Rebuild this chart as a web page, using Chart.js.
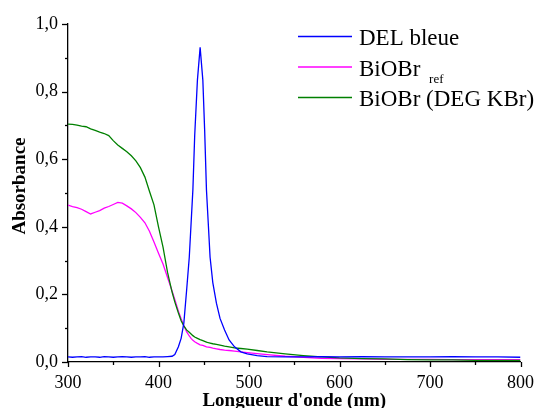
<!DOCTYPE html>
<html>
<head>
<meta charset="utf-8">
<script src="https://cdn.jsdelivr.net/npm/chart.js@4.4.1/dist/chart.umd.min.js"></script>
<style>
  body { margin: 0; background: #fff; }
  #wrap { width: 544px; height: 408px; }
</style>
</head>
<body>
<div id="wrap"><canvas id="absChart" width="544" height="408"></canvas></div>
<script>
// longueurs d'onde (nm), partagées par les trois courbes
const wavelengths = [300, 305, 310, 315, 320, 325, 330, 335, 340, 345, 350, 355, 360, 365, 370, 375, 380, 385, 390, 395, 400,
  405, 410, 415, 418, 422, 425, 428, 431, 434, 436, 438, 440, 443, 446, 449, 451, 453, 455, 457, 460, 464, 468, 473, 478, 484, 491, 498, 509, 520,
  540, 560, 580, 600, 625, 650, 675, 700, 725, 750, 775, 800];

const delBleue = [0.015, 0.014, 0.015, 0.016, 0.014, 0.015, 0.015, 0.014, 0.016, 0.015, 0.014, 0.015, 0.016, 0.015, 0.014, 0.015, 0.015, 0.016, 0.014, 0.015, 0.015,
  0.015, 0.016, 0.017, 0.022, 0.045, 0.07, 0.115, 0.21, 0.31, 0.41, 0.51, 0.67, 0.834, 0.931, 0.834, 0.686, 0.509, 0.41, 0.31, 0.235, 0.174, 0.129, 0.095, 0.065, 0.045, 0.03, 0.024, 0.019, 0.016,
  0.015, 0.015, 0.016, 0.015, 0.016, 0.015, 0.015, 0.015, 0.016, 0.015, 0.015, 0.014];

const biobrRef = [0.464, 0.46, 0.457, 0.452, 0.445, 0.438, 0.443, 0.448, 0.455, 0.46, 0.466, 0.472, 0.47, 0.462, 0.453, 0.442, 0.428, 0.412, 0.387, 0.355, 0.322,
  0.29, 0.25, 0.21, 0.185, 0.15, 0.128, 0.108, 0.09, 0.077, 0.07, 0.064, 0.06, 0.055, 0.051, 0.049, 0.047, 0.045, 0.044, 0.043, 0.041, 0.039, 0.037, 0.035, 0.034, 0.032, 0.03, 0.028, 0.025, 0.022,
  0.017, 0.014, 0.011, 0.01, 0.009, 0.008, 0.008, 0.008, 0.007, 0.007, 0.007, 0.007];

const biobrDeg = [0.704, 0.703, 0.701, 0.698, 0.696, 0.69, 0.685, 0.68, 0.676, 0.67, 0.655, 0.642, 0.632, 0.622, 0.61, 0.595, 0.575, 0.547, 0.505, 0.465, 0.4,
  0.34, 0.265, 0.207, 0.178, 0.145, 0.122, 0.107, 0.095, 0.088, 0.083, 0.078, 0.074, 0.07, 0.066, 0.063, 0.061, 0.059, 0.057, 0.056, 0.054, 0.052, 0.05, 0.047, 0.045, 0.042, 0.04, 0.038, 0.034, 0.03,
  0.024, 0.019, 0.015, 0.012, 0.01, 0.009, 0.007, 0.006, 0.006, 0.005, 0.005, 0.005];

const seriesNames = ['DEL bleue', 'BiOBr', 'BiOBr (DEG KBr)'];
const seriesSubs = ['', 'ref', ''];
const seriesColors = ['#0000ff', '#ff00ff', '#008000'];
const xTickLabels = ['300', '400', '500', '600', '700', '800'];
const yTickLabels = ['0,0', '0,2', '0,4', '0,6', '0,8', '1,0'];

const serif = '"Liberation Serif", "Times New Roman", serif';
Chart.defaults.font.family = serif;
Chart.defaults.color = '#000';

function toPoints(values) {
  return wavelengths.map((w, i) => ({ x: w, y: values[i] }));
}

// ticks majeurs/mineurs, légende avec indice, titres des axes
const decor = {
  id: 'decor',
  afterDraw(chart) {
    const ctx = chart.ctx;
    const xs = chart.scales.x, ys = chart.scales.y;
    const area = chart.chartArea;
    ctx.save();
    ctx.strokeStyle = '#000';
    ctx.lineWidth = 1.3;
    xs.ticks.forEach(t => {
      const px = Math.round(xs.getPixelForValue(t.value)) + 0.5;
      const len = t.value % 100 === 0 ? 5 : 3;
      ctx.beginPath(); ctx.moveTo(px, area.bottom); ctx.lineTo(px, area.bottom + len); ctx.stroke();
    });
    ys.ticks.forEach(t => {
      const py = Math.round(ys.getPixelForValue(t.value)) + 0.5;
      const len = Math.round(t.value * 10) % 2 === 0 ? 6 : 3;
      ctx.beginPath(); ctx.moveTo(area.left - len, py); ctx.lineTo(area.left, py); ctx.stroke();
    });

    // légende
    const baselines = [45, 75.5, 106];
    seriesNames.forEach((name, i) => {
      const by = baselines[i];
      ctx.strokeStyle = seriesColors[i];
      ctx.lineWidth = 1.3;
      ctx.beginPath(); ctx.moveTo(298, by - 8.5); ctx.lineTo(352, by - 8.5); ctx.stroke();
      ctx.fillStyle = '#000';
      ctx.textBaseline = 'alphabetic';
      ctx.textAlign = 'left';
      ctx.font = '23px ' + serif;
      ctx.fillText(name, 359, by);
      if (seriesSubs[i]) {
        const w = ctx.measureText(name + ' ').width;
        ctx.font = '13px ' + serif;
        ctx.fillText(seriesSubs[i], 359 + w + 3, by + 7.5);
      }
    });

    // titres
    ctx.fillStyle = '#000';
    ctx.font = 'bold 19px ' + serif;
    ctx.textAlign = 'center';
    ctx.textBaseline = 'alphabetic';
    ctx.fillText("Longueur d'onde (nm)", (area.left + area.right) / 2, 406);
    ctx.translate(25, 186);
    ctx.rotate(-Math.PI / 2);
    ctx.fillText('Absorbance', 0, 0);
    ctx.restore();
  }
};

const ctx = document.getElementById('absChart').getContext('2d');
const absChart = new Chart(ctx, {
  type: 'line',
  data: {
    datasets: [
      { label: 'DEL bleue', data: toPoints(delBleue), borderColor: seriesColors[0], order: 0 },
      { label: 'BiOBr ref', data: toPoints(biobrRef), borderColor: seriesColors[1], order: 2 },
      { label: 'BiOBr (DEG KBr)', data: toPoints(biobrDeg), borderColor: seriesColors[2], order: 1 }
    ]
  },
  options: {
    responsive: false,
    animation: false,
    elements: {
      line: { borderWidth: 1.3, tension: 0, fill: false },
      point: { radius: 0 }
    },
    layout: { padding: { left: 0, top: 24, right: 17, bottom: 0 } },
    plugins: { legend: { display: false }, tooltip: { enabled: false } },
    scales: {
      x: {
        type: 'linear',
        min: 300,
        max: 800,
        afterFit: s => { s.height = 46; },
        grid: { display: false, drawTicks: false },
        border: { display: true, color: '#000', width: 1.3 },
        ticks: {
          stepSize: 50,
          autoSkip: false,
          maxRotation: 0,
          padding: 10,
          color: '#000',
          font: { size: 18 },
          callback: v => (v % 100 === 0 ? xTickLabels[(v - 300) / 100] : '')
        }
      },
      y: {
        min: 0,
        max: 1,
        afterFit: s => { s.width = 68; },
        grid: { display: false, drawTicks: false },
        border: { display: true, color: '#000', width: 1.3 },
        ticks: {
          stepSize: 0.1,
          autoSkip: false,
          padding: 10,
          color: '#000',
          font: { size: 18 },
          callback: v => {
            const k = Math.round(v * 10);
            return k % 2 === 0 ? yTickLabels[k / 2] : '';
          }
        }
      }
    }
  },
  plugins: [decor]
});
</script>
</body>
</html>
